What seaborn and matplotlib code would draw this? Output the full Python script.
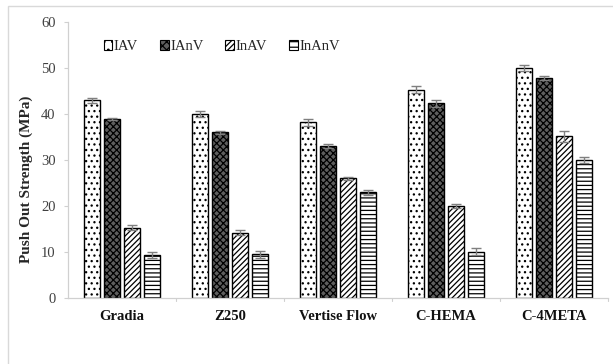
import matplotlib
matplotlib.use("Agg")
import matplotlib.pyplot as plt
import seaborn as sns
import pandas as pd
from matplotlib.patches import Patch, Rectangle

categories = ["Gradia", "Z250", "Vertise Flow", "C-HEMA", "C-4META"]
groups = ["IAV", "IAnV", "InAV", "InAnV"]
IAV = [43.0, 40.0, 38.2, 45.3, 50.0]
IAnV = [39.0, 36.0, 33.0, 42.3, 47.8]
InAV = [15.3, 14.2, 26.0, 20.0, 35.2]
InAnV = [9.3, 9.5, 23.0, 10.1, 30.0]
err_IAV = [0.5, 0.6, 0.7, 0.7, 0.7]
err_IAnV = [0.2, 0.4, 0.4, 0.7, 0.4]
err_InAV = [0.6, 0.5, 0.4, 0.4, 1.2]
err_InAnV = [0.6, 0.7, 0.5, 0.7, 0.6]
yticks = [0, 10, 20, 30, 40, 50, 60]

values = {"IAV": IAV, "IAnV": IAnV, "InAV": InAV, "InAnV": InAnV}
errors = {"IAV": err_IAV, "IAnV": err_IAnV, "InAV": err_InAV, "InAnV": err_InAnV}
rows = []
for g in groups:
    for c, v in zip(categories, values[g]):
        rows.append({"Material": c, "Group": g, "Value": v})
df = pd.DataFrame(rows)

sns.set_style("white")
plt.rcParams["font.family"] = ["Liberation Serif", "DejaVu Serif"]
plt.rcParams["hatch.linewidth"] = 0.9

fig = plt.figure(figsize=(6.13, 3.64), dpi=100)
ax = fig.add_axes([68 / 613, 1 - 298 / 364, 540 / 613, 276 / 364])

styles = {
    "IAV": dict(fc="white", hatch="...", lh=".."),
    "IAnV": dict(fc="#5e5e5e", hatch="xxxxx", lh="xxxx"),
    "InAV": dict(fc="white", hatch="//////", lh="//////"),
    "InAnV": dict(fc="white", hatch="----", lh="---"),
}
palette = {g: styles[g]["fc"] for g in groups}

sns.barplot(data=df, x="Material", y="Value", hue="Group", order=categories,
            hue_order=groups, palette=palette, errorbar=None, gap=0.2,
            width=0.74, legend=False, ax=ax, saturation=1,
            edgecolor="black", linewidth=1.0)

for g, cont in zip(groups, ax.containers):
    for bar, e in zip(cont, errors[g]):
        bar.set_hatch(styles[g]["hatch"])
        bar.set_edgecolor("black")
        bar.set_facecolor(styles[g]["fc"])
        cx = bar.get_x() + bar.get_width() / 2
        ax.errorbar(cx, bar.get_height(), yerr=e, color="#7f7f7f",
                    capsize=3.5, elinewidth=1.0, capthick=1.0, zorder=5)

ax.set_ylim(0, 60)
ax.set_xlim(-0.5, len(categories) - 0.5)
ax.set_yticks(yticks)
ax.set_yticklabels([str(t) for t in yticks], fontsize=10.5, color="#404040")
ax.set_xticks(range(len(categories)))
ax.set_xticklabels(categories, fontsize=10.5, fontweight="bold", color="#111111")
ax.tick_params(axis="x", length=0, pad=9)
ax.tick_params(axis="y", length=3, color="#d0d0d0", width=0.8, pad=6, left=True)
for b in [0.5, 1.5, 2.5, 3.5, 4.5]:
    ax.plot([b, b], [0, -0.012], transform=ax.get_xaxis_transform(),
            color="#d0d0d0", lw=0.8, clip_on=False)
ax.set_xlabel("")
ax.set_ylabel("Push Out Strength (MPa)", fontsize=11, fontweight="bold")
ax.yaxis.set_label_coords(-0.065, 0.43)
for s in ["top", "right"]:
    ax.spines[s].set_visible(False)
for s in ["left", "bottom"]:
    ax.spines[s].set_color("#d0d0d0")
    ax.spines[s].set_linewidth(0.9)

handles = [Patch(facecolor=styles[g]["fc"], hatch=styles[g]["lh"],
                 edgecolor="black", linewidth=0.8) for g in groups]
ax.legend(handles, groups, loc="upper left", bbox_to_anchor=(0.055, 0.955),
          ncol=4, frameon=False, fontsize=10.5, handlelength=0.6,
          handleheight=0.6, handletextpad=0.1, columnspacing=1.5,
          borderaxespad=0)

fig.patches.append(Rectangle((8 / 613, -0.1), 1.2, 1 - 6 / 364 + 0.1,
                             transform=fig.transFigure, fill=False,
                             edgecolor="#d9d9d9", lw=1.0))

fig.savefig("out.png", dpi=100)
